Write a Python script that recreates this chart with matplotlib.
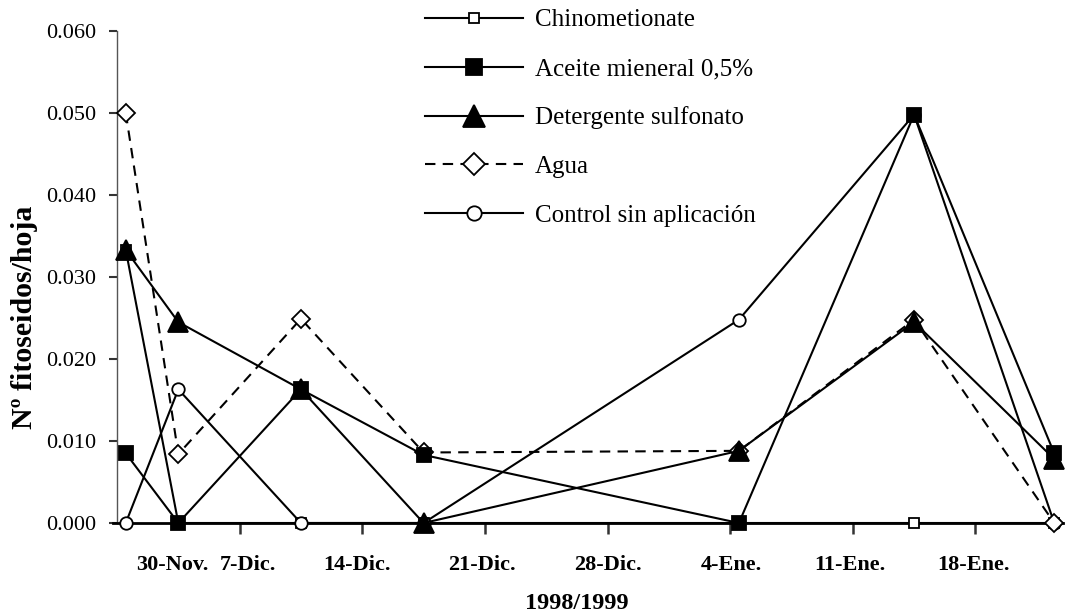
import matplotlib
matplotlib.use("Agg")
import matplotlib.pyplot as plt
import matplotlib.transforms as mtransforms
import matplotlib.dates as mdates
import pandas as pd

# ---- data ----
sample_dates = ["1998-11-30", "1998-12-03", "1998-12-10", "1998-12-17",
                "1999-01-04", "1999-01-14", "1999-01-22"]
chinometionate = [0.0333, 0.0, 0.0, 0.0, 0.0, 0.0, 0.0]
aceite = [0.0085, 0.0, 0.0163, 0.0083, 0.0, 0.0498, 0.0085]
detergente = [0.0333, 0.0245, 0.0163, 0.0, 0.0088, 0.0245, 0.0078]
agua = [0.0500, 0.0084, 0.0249, 0.0086, 0.0088, 0.0248, 0.0]
control = [0.0, 0.0163, 0.0, 0.0, 0.0248, 0.0498, 0.0]

series_labels = ["Chinometionate", "Aceite mieneral 0,5%", "Detergente sulfonato",
                 "Agua", "Control sin aplicación"]
tick_dates = ["1998-11-30", "1998-12-07", "1998-12-14", "1998-12-21",
              "1998-12-28", "1999-01-04", "1999-01-11", "1999-01-18"]
tick_labels = ["30-Nov.", "7-Dic.", "14-Dic.", "21-Dic.", "28-Dic.",
               "4-Ene.", "11-Ene.", "18-Ene."]
y_ticks = [0.0, 0.01, 0.02, 0.03, 0.04, 0.05, 0.06]

plt.rcParams['font.family'] = ['Liberation Serif', 'DejaVu Serif']

fig = plt.figure(figsize=(10.68, 6.14), dpi=100)
ax = fig.add_axes([117/1068, 1-523/614, 946/1068, 492/614])

x = pd.to_datetime(sample_dates) + pd.Timedelta(hours=12)

common = dict(color='black', lw=1.5, clip_on=False, markeredgecolor='black',
              markeredgewidth=1.3)
h_chino, = ax.plot(x, chinometionate, '-', marker='s', ms=6.5,
                   markerfacecolor='white', zorder=3, **common)
h_ctrl, = ax.plot(x, control, '-', marker='o', ms=9,
                  markerfacecolor='white', zorder=4, **common)
h_agua, = ax.plot(x, agua, marker='D', ms=9.5, markerfacecolor='white',
                  linestyle=(0, (5, 3.5)), zorder=5, **common)
h_det, = ax.plot(x, detergente, '-', marker='^', ms=14,
                 markerfacecolor='black', zorder=6, **common)
h_ace, = ax.plot(x, aceite, '-', marker='s', ms=9.5,
                 markerfacecolor='black', zorder=7, **common)

x0 = pd.Timestamp("1998-11-30")
x1 = pd.Timestamp("1999-01-23")
ax.set_xlim(x0, x1)
ax.set_ylim(0, 0.06)

ax.set_yticks(y_ticks)
ax.set_yticklabels([f"{v:.3f}" for v in y_ticks])
ax.set_xticks(pd.to_datetime(tick_dates))
ax.set_xticklabels(tick_labels, fontweight='bold', fontsize=16)

for s in ['top', 'right']:
    ax.spines[s].set_visible(False)
ax.spines['left'].set_color('#555555')
ax.spines['left'].set_linewidth(1.0)
ax.spines['bottom'].set_color('black')
ax.spines['bottom'].set_linewidth(2.0)
ax.spines['bottom'].set_bounds(mdates.date2num(x0) - 0.25, mdates.date2num(x1))

ax.tick_params(axis='y', direction='out', length=6, width=1.5, color='#333333',
               labelsize=16, pad=9)
ax.tick_params(axis='x', direction='out', length=8, width=1.8, color='#333333',
               pad=15)
ax.xaxis.get_major_ticks()[0].tick1line.set_visible(False)

# shift first labels right (as in original)
offsets = [55, 8, -5, -3, 0, 1, -3, -2]
for lab, dx in zip(ax.get_xticklabels(), offsets):
    lab.set_transform(lab.get_transform() +
                      mtransforms.ScaledTranslation(dx/100, 0, fig.dpi_scale_trans))

ax.set_ylabel("Nº fitoseidos/hoja", fontweight='bold', fontsize=21.5)
ax.yaxis.set_label_coords(-0.083, 0.418)
ax.set_xlabel("1998/1999", fontweight='bold', fontsize=17.5)
ax.xaxis.set_label_coords(0.486, -0.143)

leg = fig.legend([h_chino, h_ace, h_det, h_agua, h_ctrl], series_labels,
                 loc='upper left', bbox_to_anchor=(425/1068, 1 - 9/614),
                 frameon=False, fontsize=18, handlelength=3.9,
                 handletextpad=0.5, labelspacing=1.05, borderpad=0.0,
                 borderaxespad=0.0, markerscale=1.15)

fig.savefig("out.png", dpi=100)
